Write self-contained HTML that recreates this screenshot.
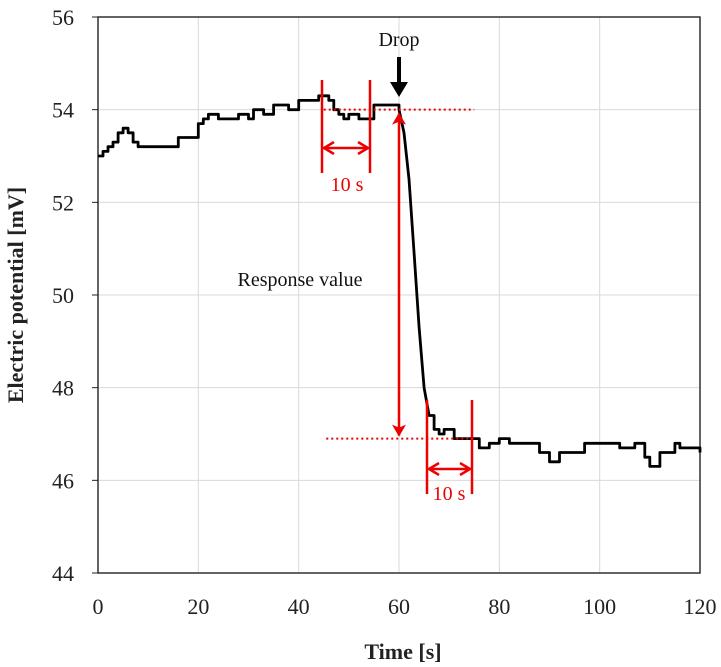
<!DOCTYPE html>
<html><head><meta charset="utf-8"><style>
body{margin:0;background:#fff}
svg{display:block;font-family:"Liberation Serif",serif}
</style></head><body>
<svg id="chart" width="721" height="667" viewBox="0 0 721 667">
<defs>
<marker id="ra" markerWidth="12" markerHeight="14" refX="11" refY="7" orient="auto-start-reverse" markerUnits="userSpaceOnUse"><path d="M1,1 L11,7 L1,13" fill="none" stroke="#e00" stroke-width="2.5"/></marker>
<marker id="rf" markerWidth="12" markerHeight="16" refX="11" refY="8" orient="auto-start-reverse" markerUnits="userSpaceOnUse"><path d="M0,1 L12,8 L0,15 L3,8 Z" fill="#e00"/></marker>
</defs>
<g id="grid"></g>
<g id="axes"></g>
<g id="series"></g>
<g id="annot"></g>
</svg>
<script>
const times=[0,1,2,3,4,5,6,7,8,9,10,12,14,16,18,20,21,22,24,26,28,30,31,33,35,36,38,40,42,44,45,46,47,48,49,50,52,54,55,57,59,60,61,62,63,64,65,66,67,68,69,70,71,73,75,76,78,80,82,84,86,88,90,92,95,97,100,102,104,107,109,110,112,115,116,119,120];
const potential=[53.0,53.1,53.2,53.3,53.5,53.6,53.5,53.3,53.2,53.2,53.2,53.2,53.2,53.4,53.4,53.7,53.8,53.9,53.8,53.8,53.9,53.8,54.0,53.9,54.1,54.1,54.0,54.2,54.2,54.3,54.3,54.2,54.0,53.9,53.8,53.9,53.8,53.8,54.1,54.1,54.1,54.0,53.5,52.5,50.9,49.3,48.0,47.4,47.1,47.0,47.1,47.1,46.9,46.9,46.9,46.7,46.8,46.9,46.8,46.8,46.8,46.6,46.4,46.6,46.6,46.8,46.8,46.8,46.7,46.8,46.5,46.3,46.6,46.8,46.7,46.7,46.6];
const xTicks=[0,20,40,60,80,100,120];
const yTicks=[44,46,48,50,52,54,56];
const X0=98,X1=700,Y0=573,Y1=17;
const sx=t=>X0+(t-0)/120*(X1-X0);
const sy=v=>Y0-(v-44)/12*(Y0-Y1);
const NS="http://www.w3.org/2000/svg";
function mk(tag,attrs,parent,text){const e=document.createElementNS(NS,tag);for(const k in attrs)e.setAttribute(k,attrs[k]);if(text!==undefined)e.textContent=text;document.getElementById(parent).appendChild(e);return e;}
xTicks.forEach(t=>{
 const g=mk('line',{x1:sx(t),x2:sx(t),y1:Y1,y2:Y0,stroke:'#d9d9d9','stroke-width':1},'grid');
 
 
 const l=mk('text',{x:sx(t),y:Y0+41,'text-anchor':'middle','font-size':22,fill:'#222'},'axes',t);
 
 
});
yTicks.forEach(v=>{
 const g=mk('line',{x1:X0,x2:X1,y1:sy(v),y2:sy(v),stroke:'#d9d9d9','stroke-width':1},'grid');
 
 
 const k=mk('line',{x1:X0-6,x2:X0,y1:sy(v),y2:sy(v),stroke:'#222','stroke-width':1},'axes');
 
 
 const l=mk('text',{x:X0-24,y:sy(v)+8,'text-anchor':'end','font-size':22,fill:'#222'},'axes',v);
 
 
});
const fr=mk('rect',{x:X0,y:Y1,width:X1-X0,height:Y0-Y1,fill:'none',stroke:'#222','stroke-width':1.4},'axes');


const xt=mk('text',{x:403,y:659,'text-anchor':'middle','font-size':22,'font-weight':'bold',fill:'#222'},'axes','Time [s]');


const yt=mk('text',{x:0,y:0,transform:'translate(23,295) rotate(-90)','text-anchor':'middle','font-size':22,'font-weight':'bold',fill:'#222'},'axes','Electric potential [mV]');


let d='';
times.forEach((t,i)=>{
 const x=sx(t).toFixed(1),y=sy(potential[i]).toFixed(1);
 if(i===0){d+='M'+x+','+y;return;}
 if(Math.abs(potential[i]-potential[i-1])<=0.31) d+='H'+x+'V'+y;
 else d+='L'+x+','+y;
});
const ln=mk('path',{d:d,fill:'none',stroke:'#000','stroke-width':2.8,'stroke-linejoin':'round'},'series');


function a(tag,attrs,name,text){const e=mk(tag,attrs,'annot',text);return e;}
const R='#e00';
a('line',{x1:sx(45),x2:sx(75),y1:sy(54),y2:sy(54),stroke:R,'stroke-width':2,'stroke-dasharray':'2,3'},'baseline-dotted');
a('line',{x1:sx(45.5),x2:sx(75),y1:sy(46.9),y2:sy(46.9),stroke:R,'stroke-width':2,'stroke-dasharray':'2,3'},'plateau-dotted');
a('line',{x1:322,x2:322,y1:80,y2:173,stroke:R,'stroke-width':2.5},'window1-left');
a('line',{x1:370,x2:370,y1:80,y2:173,stroke:R,'stroke-width':2.5},'window1-right');
a('line',{x1:324,x2:368,y1:148,y2:148,stroke:R,'stroke-width':2.5,'marker-end':'url(#ra)','marker-start':'url(#ra)'},'window1-arrow');
a('text',{x:347,y:191,'text-anchor':'middle','font-size':20,fill:R},'window1-label','10 s');
a('line',{x1:427,x2:427,y1:400,y2:494,stroke:R,'stroke-width':2.5},'window2-left');
a('line',{x1:472,x2:472,y1:400,y2:494,stroke:R,'stroke-width':2.5},'window2-right');
a('line',{x1:429,x2:470,y1:469,y2:469,stroke:R,'stroke-width':2.5,'marker-end':'url(#ra)','marker-start':'url(#ra)'},'window2-arrow');
a('text',{x:449,y:500,'text-anchor':'middle','font-size':20,fill:R},'window2-label','10 s');
a('line',{x1:399,x2:399,y1:sy(54)+4,y2:sy(46.9)-3,stroke:R,'stroke-width':2.5,'marker-end':'url(#rf)','marker-start':'url(#rf)'},'response-arrow');
a('line',{x1:399,x2:399,y1:57,y2:84,stroke:'#000','stroke-width':4},'drop-arrow-shaft');
a('path',{d:'M390,82 L408,82 L399,97 Z',fill:'#000'},'drop-arrow-head');
a('text',{x:399,y:46,'text-anchor':'middle','font-size':20,fill:'#111'},'drop-label','Drop');
a('text',{x:300,y:286,'text-anchor':'middle','font-size':20,fill:'#111'},'response-value-label','Response value');
</script>
</body></html>
